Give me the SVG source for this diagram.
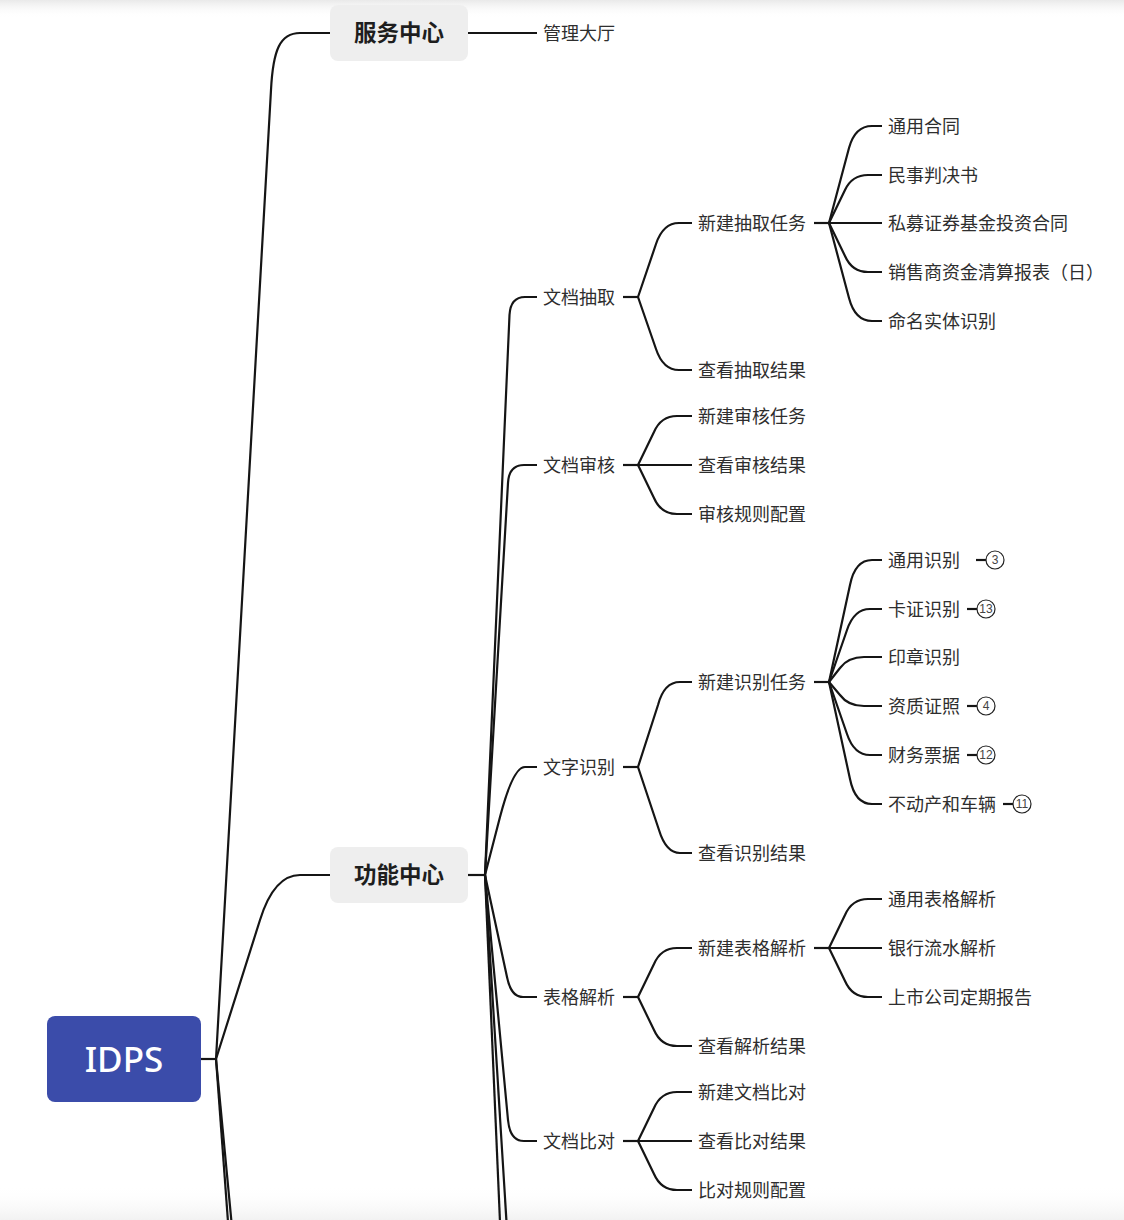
<svg xmlns="http://www.w3.org/2000/svg" width="1124" height="1220" viewBox="0 0 1124 1220">
<defs>
<linearGradient id="topShade" x1="0" y1="0" x2="0" y2="1">
<stop offset="0" stop-color="#e9e9e9"/>
<stop offset="1" stop-color="#ffffff" stop-opacity="0"/>
</linearGradient>
<linearGradient id="botShade" x1="0" y1="0" x2="0" y2="1">
<stop offset="0" stop-color="#ffffff" stop-opacity="0"/>
<stop offset="1" stop-color="#f2f2f2"/>
</linearGradient>
<style>
.ln{fill:none;stroke:#151515;stroke-width:2.2;stroke-linecap:butt;stroke-linejoin:round}
.t{font-family:"Noto Sans CJK SC","Noto Sans",sans-serif;font-size:18px;fill:#2e2e2e;dominant-baseline:central}
.t1{font-family:"Noto Sans CJK SC","Noto Sans",sans-serif;font-size:22.5px;font-weight:bold;fill:#1e1e1e;dominant-baseline:central;text-anchor:middle}
.box{fill:#eeeeee}
.badge{fill:#ffffff;stroke:#222;stroke-width:1.2}
.bt{font-family:"Liberation Sans",Arial,sans-serif;font-size:12px;fill:#444;text-anchor:middle;dominant-baseline:central}
</style>
</defs>
<rect x="0" y="0" width="1124" height="1220" fill="#ffffff"/>
<rect x="0" y="0" width="1124" height="18" fill="url(#topShade)"/>
<rect x="0" y="1185" width="1124" height="35" fill="url(#botShade)"/>

<g id="connectors">
<path class="ln" d="M201,1059 L216,1059"/>
<path class="ln" d="M216,1059 L271,90 C273,50 280,33 300,33 L330,33"/>
<path class="ln" d="M216,1059 L260,920 Q274,875 300,875 L330,875"/>
<path class="ln" d="M216,1059 L228,1222"/>
<path class="ln" d="M216,1059 L231.5,1222"/>
<path class="ln" d="M468,33 L537,33"/>
<path class="ln" d="M468,875 L485,875"/>
<path class="ln" d="M485,875 L509.5,315 Q510.5,297 525,297 L537,297"/>
<path class="ln" d="M485,875 L508,483 Q509,465 524,465 L537,465"/>
<path class="ln" d="M485,875 L500,817 Q513,767 525,767 L537,767"/>
<path class="ln" d="M485,875 L507,977 Q511,997 523,997 L537,997"/>
<path class="ln" d="M485,875 L508,1120 Q510,1141 524,1141 L537,1141"/>
<path class="ln" d="M485,875 L500,1222"/>
<path class="ln" d="M485,875 L506.5,1222"/>
<path class="ln" d="M623,297 L638,297"/>
<path class="ln" d="M623,465 L638,465"/>
<path class="ln" d="M623,767 L638,767"/>
<path class="ln" d="M623,997 L638,997"/>
<path class="ln" d="M623,1141 L638,1141"/>
<path class="ln" d="M638,297 L656,244 Q663,223 679,223 L692,223"/>
<path class="ln" d="M638,297 L656,349 Q663,370 679,370 L692,370"/>
<path class="ln" d="M638,465 L654,432 Q661,416 677,416 L692,416"/>
<path class="ln" d="M638,465 L692,465"/>
<path class="ln" d="M638,465 L654,498 Q661,514 677,514 L692,514"/>
<path class="ln" d="M638,767 L658,705 Q664,682 680,682 L692,682"/>
<path class="ln" d="M638,767 L659,830 Q666,853 680,853 L692,853"/>
<path class="ln" d="M638,997 L654,964 Q661,948 677,948 L692,948"/>
<path class="ln" d="M638,997 L654,1030 Q661,1046 677,1046 L692,1046"/>
<path class="ln" d="M638,1141 L654,1108 Q661,1092 677,1092 L692,1092"/>
<path class="ln" d="M638,1141 L692,1141"/>
<path class="ln" d="M638,1141 L654,1174 Q661,1190 677,1190 L692,1190"/>
<path class="ln" d="M814,223 L829,223"/>
<path class="ln" d="M814,682 L829,682"/>
<path class="ln" d="M814,948 L829,948"/>
<path class="ln" d="M829,223 L849,148 Q855,126 872,126 L882,126"/>
<path class="ln" d="M829,223 L845,190 Q852,175 868,175 L882,175"/>
<path class="ln" d="M829,223 L882,223"/>
<path class="ln" d="M829,223 L845,256 Q852,272 868,272 L882,272"/>
<path class="ln" d="M829,223 L849,298 Q855,321 872,321 L882,321"/>
<path class="ln" d="M829,682 L850,585 Q855,560 872,560 L882,560"/>
<path class="ln" d="M829,682 L847,630 Q854,609 870,609 L882,609"/>
<path class="ln" d="M829,682 L840,668 Q848,657 864,657 L882,657"/>
<path class="ln" d="M829,682 L840,695 Q848,706 864,706 L882,706"/>
<path class="ln" d="M829,682 L847,734 Q854,755 870,755 L882,755"/>
<path class="ln" d="M829,682 L850,779 Q855,804 872,804 L882,804"/>
<path class="ln" d="M829,948 L845,915 Q852,899 868,899 L882,899"/>
<path class="ln" d="M829,948 L882,948"/>
<path class="ln" d="M829,948 L845,981 Q852,997 868,997 L882,997"/>
<path class="ln" d="M976,560 L986,560"/>
<path class="ln" d="M967,609 L977,609"/>
<path class="ln" d="M967,706 L977,706"/>
<path class="ln" d="M967,755 L977,755"/>
<path class="ln" d="M1003,804 L1013,804"/>
</g>

<g id="node-idps">
<rect x="47" y="1016" width="154" height="86" rx="8" fill="#3b4caa"/>
<text x="124" y="1072" font-family="'Noto Sans','Open Sans',sans-serif" font-size="35" font-weight="500" fill="#ffffff" text-anchor="middle">IDPS</text>
</g>
<g id="node-service"><rect class="box" x="330" y="5" width="138" height="56" rx="8"/><text class="t1" x="399" y="31">服务中心</text></g>
<g id="node-function"><rect class="box" x="330" y="847" width="138" height="56" rx="8"/><text class="t1" x="399" y="873">功能中心</text></g>
<g id="node-hall"><text class="t" x="543" y="32">管理大厅</text></g>

<g id="node-extract"><text class="t" x="543" y="296">文档抽取</text></g>
<g id="node-review"><text class="t" x="543" y="464">文档审核</text></g>
<g id="node-ocr"><text class="t" x="543" y="766">文字识别</text></g>
<g id="node-table"><text class="t" x="543" y="996">表格解析</text></g>
<g id="node-compare"><text class="t" x="543" y="1140">文档比对</text></g>

<g id="node-new-extract"><text class="t" x="698" y="222">新建抽取任务</text></g>
<g id="node-view-extract"><text class="t" x="698" y="369">查看抽取结果</text></g>
<g id="node-new-review"><text class="t" x="698" y="415">新建审核任务</text></g>
<g id="node-view-review"><text class="t" x="698" y="464">查看审核结果</text></g>
<g id="node-review-rules"><text class="t" x="698" y="513">审核规则配置</text></g>
<g id="node-new-ocr"><text class="t" x="698" y="681">新建识别任务</text></g>
<g id="node-view-ocr"><text class="t" x="698" y="852">查看识别结果</text></g>
<g id="node-new-table"><text class="t" x="698" y="947">新建表格解析</text></g>
<g id="node-view-table"><text class="t" x="698" y="1045">查看解析结果</text></g>
<g id="node-new-compare"><text class="t" x="698" y="1091">新建文档比对</text></g>
<g id="node-view-compare"><text class="t" x="698" y="1140">查看比对结果</text></g>
<g id="node-compare-rules"><text class="t" x="698" y="1189">比对规则配置</text></g>

<g id="node-e1"><text class="t" x="888" y="125">通用合同</text></g>
<g id="node-e2"><text class="t" x="888" y="174">民事判决书</text></g>
<g id="node-e3"><text class="t" x="888" y="222">私募证券基金投资合同</text></g>
<g id="node-e4"><text class="t" x="888" y="271">销售商资金清算报表（日）</text></g>
<g id="node-e5"><text class="t" x="888" y="320">命名实体识别</text></g>

<g id="node-o1"><text class="t" x="888" y="559">通用识别</text><circle class="badge" cx="995" cy="560" r="9"/><text class="bt" x="995" y="560">3</text></g>
<g id="node-o2"><text class="t" x="888" y="608">卡证识别</text><circle class="badge" cx="986" cy="609" r="9"/><text class="bt" x="986" y="609">13</text></g>
<g id="node-o3"><text class="t" x="888" y="656">印章识别</text></g>
<g id="node-o4"><text class="t" x="888" y="705">资质证照</text><circle class="badge" cx="986" cy="706" r="9"/><text class="bt" x="986" y="706">4</text></g>
<g id="node-o5"><text class="t" x="888" y="754">财务票据</text><circle class="badge" cx="986" cy="755" r="9"/><text class="bt" x="986" y="755">12</text></g>
<g id="node-o6"><text class="t" x="888" y="803">不动产和车辆</text><circle class="badge" cx="1022" cy="804" r="9"/><text class="bt" x="1022" y="804">11</text></g>

<g id="node-t1"><text class="t" x="888" y="898">通用表格解析</text></g>
<g id="node-t2"><text class="t" x="888" y="947">银行流水解析</text></g>
<g id="node-t3"><text class="t" x="888" y="996">上市公司定期报告</text></g>
</svg>
